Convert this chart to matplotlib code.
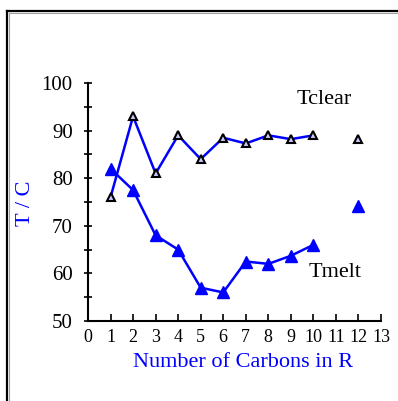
import matplotlib
matplotlib.use("Agg")
import matplotlib.pyplot as plt
from matplotlib.lines import Line2D

plt.rcParams['font.family'] = ['Liberation Serif', 'DejaVu Serif']

# number of carbons in R
carbons = [1, 2, 3, 4, 5, 6, 7, 8, 9, 10]
tclear = [76, 93, 81, 89, 84, 88.5, 87.3, 89, 88.2, 89]
tmelt = [82, 77.5, 68, 65, 57, 56, 62.5, 62, 63.7, 66]
# the R = 12 compound, plotted on its own
c12 = [12]
tclear12 = [88.2]
tmelt12 = [74.2]

xticks = list(range(0, 14))
yticks = [50, 60, 70, 80, 90, 100]

W, H = 398, 401
fig = plt.figure(figsize=(W / 100, H / 100), dpi=100)
ax = fig.add_axes([88 / W, 1 - 321 / H, (381 - 88) / W, (321 - 83) / H])

blue = '#0000ff'
ax.plot(carbons, tclear, color=blue, lw=1.8, marker='^', ms=6,
        mfc='#c8c8ff', mec='black', mew=1.5, zorder=3)
ax.plot(carbons, tmelt, color=blue, lw=1.8, marker='^', ms=8,
        mfc=blue, mec=blue, zorder=3)
ax.plot(c12, tclear12, ls='none', marker='^', ms=6,
        mfc='#c8c8ff', mec='black', mew=1.5, zorder=3)
ax.plot(c12, tmelt12, ls='none', marker='^', ms=8,
        mfc=blue, mec=blue, zorder=3)

ax.text(10.5, 96.6, 'Tclear', fontsize=16, ha='center', va='center')
ax.text(10.95, 60.1, 'Tmelt', fontsize=16, ha='center', va='center')

ax.set_xlim(0, 13)
ax.set_ylim(50, 100)
ax.set_xticks(xticks)
ax.set_yticks(yticks)
ax.set_yticks([55, 65, 75, 85, 95], minor=True)
ax.tick_params(axis='x', direction='in', length=5, width=1.2, labelsize=13, pad=6)
ax.tick_params(axis='y', which='both', direction='inout', length=6, width=1.2,
               labelsize=15, pad=8)
for s in ['top', 'right']:
    ax.spines[s].set_visible(False)
for s in ['left', 'bottom']:
    ax.spines[s].set_linewidth(1.5)

ax.set_xlabel('Number of Carbons in R', fontsize=16, color=blue, va='center')
ax.xaxis.set_label_coords(0.529, -0.176)
ax.set_ylabel('T / C', fontsize=16, color=blue, va='center')
ax.yaxis.set_label_coords(-0.215, 0.496)

# frame around the chart, top and left edges
fig.add_artist(Line2D([7 / W, 7 / W], [0, 1 - 11 / H], color='black', lw=1.6,
                      transform=fig.transFigure))
fig.add_artist(Line2D([7 / W, 1], [1 - 11 / H, 1 - 11 / H], color='black', lw=1.6,
                      transform=fig.transFigure))
fig.add_artist(Line2D([9 / W, 9 / W], [0, 1 - 13 / H], color='#a0a0a0', lw=0.8,
                      transform=fig.transFigure))
fig.add_artist(Line2D([9 / W, 1], [1 - 13 / H, 1 - 13 / H], color='#a0a0a0', lw=0.8,
                      transform=fig.transFigure))

fig.savefig('out.png', dpi=100)
